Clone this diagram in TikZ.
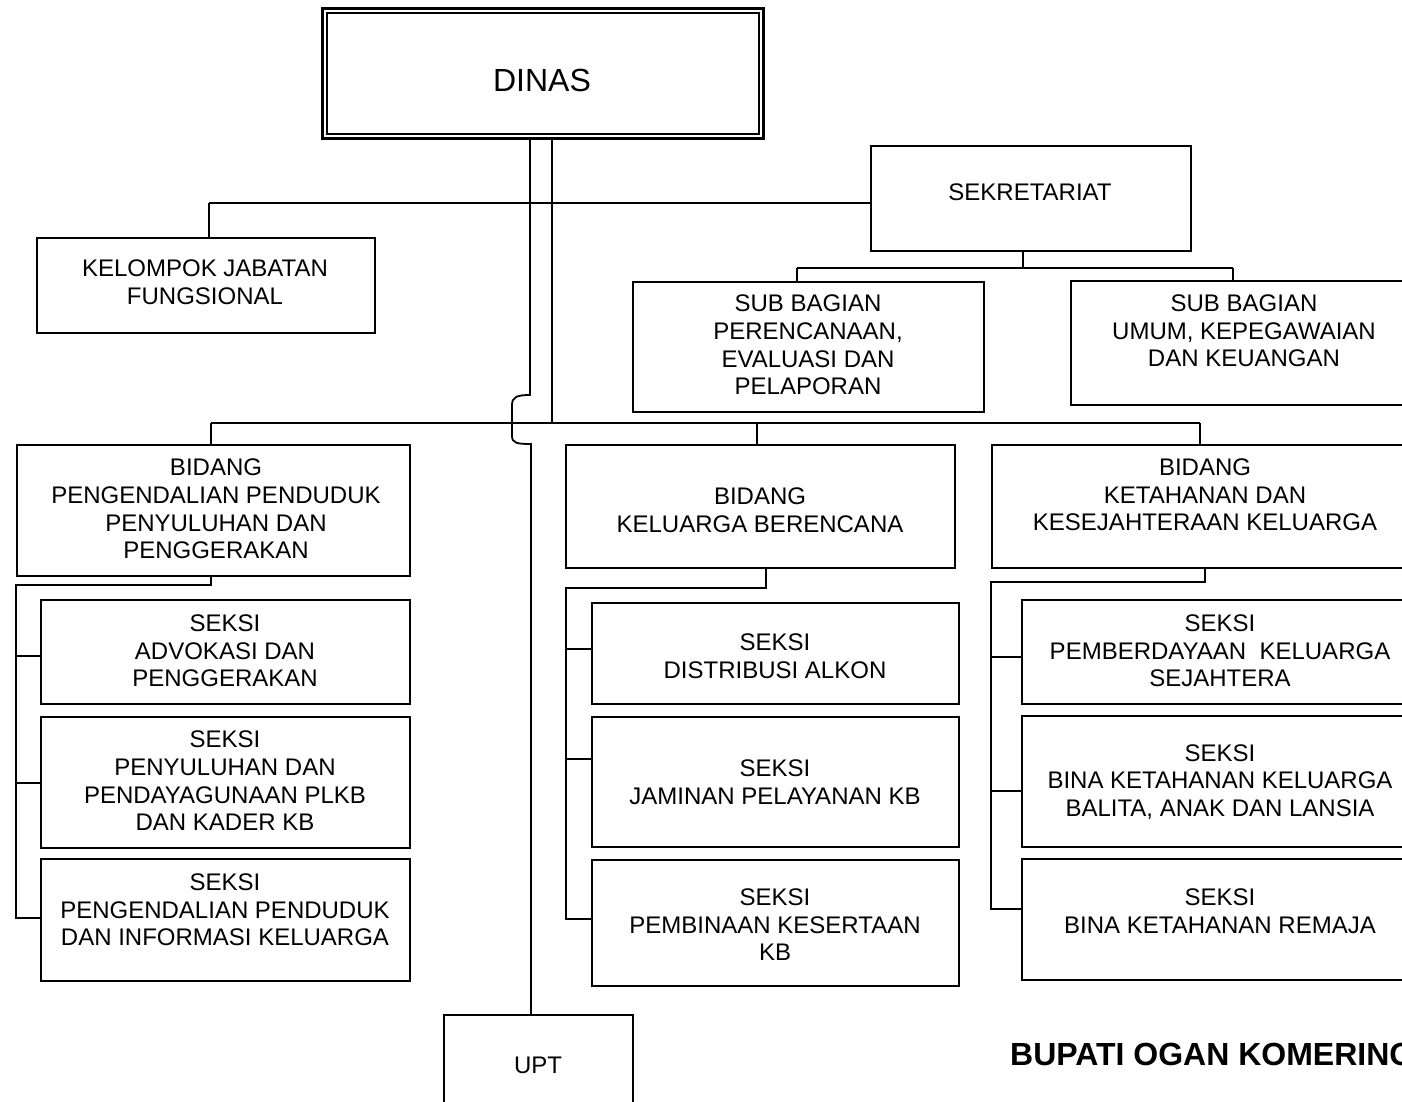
\documentclass[tikz,border=0pt]{standalone}
\usepackage{fontspec}
\setmainfont{Liberation Sans}
\begin{document}
\begin{tikzpicture}[x=1pt,y=-1pt,
  box/.style={draw,line width=1.8pt,rectangle,inner sep=0pt,anchor=north west},
  txt/.style={align=center,inner sep=0pt,font=\fontsize{24}{27.6}\selectfont},
  wire/.style={line width=1.8pt}]
\useasboundingbox (0,0) rectangle (1402,1101);
\fill[white] (0,0) rectangle (1402,1101);
\clip (0,0) rectangle (1402,1101);

% head office, double frame
\node[box,line width=3pt,minimum width=441pt,minimum height=130pt] (dinas) at (321,7) {};
\draw[line width=1.6pt] ([shift={(6,6)}]dinas.north west) rectangle ([shift={(-6,-6)}]dinas.south east);
\node[inner sep=0pt,font=\fontsize{32}{38}\selectfont] (dinas-t) at (542,80) {DINAS};

% secretariat and its sub-sections
\node[box,minimum width=320pt,minimum height=105pt] (sek) at (870,145) {};
\node[txt] (sek-t) at (1030,192) {SEKRETARIAT};
\node[box,minimum width=338pt,minimum height=95pt] (kel) at (36,237) {};
\node[txt] (kel-t) at (205,282) {KELOMPOK JABATAN\\FUNGSIONAL};
\node[box,minimum width=351pt,minimum height=130pt] (sub1) at (632,281) {};
\node[txt] (sub1-t) at (808,345) {SUB BAGIAN\\PERENCANAAN,\\EVALUASI DAN\\PELAPORAN};
\node[box,minimum width=349pt,minimum height=124pt] (sub2) at (1070,280) {};
\node[txt] (sub2-t) at (1244,331) {SUB BAGIAN\\UMUM, KEPEGAWAIAN\\DAN KEUANGAN};

% divisions
\node[box,minimum width=393pt,minimum height=131pt] (bid1) at (16,444) {};
\node[txt] (bid1-t) at (216,509) {BIDANG\\PENGENDALIAN PENDUDUK\\PENYULUHAN DAN\\PENGGERAKAN};
\node[box,minimum width=389pt,minimum height=123pt] (bid2) at (565,444) {};
\node[txt] (bid2-t) at (760,510) {BIDANG\\KELUARGA BERENCANA};
\node[box,minimum width=428pt,minimum height=123pt] (bid3) at (991,444) {};
\node[txt] (bid3-t) at (1205,495) {BIDANG\\KETAHANAN DAN\\KESEJAHTERAAN KELUARGA};

% sections, left column
\node[box,minimum width=369pt,minimum height=104pt] (s11) at (40,599) {};
\node[txt] (s11-t) at (225,651) {SEKSI\\ADVOKASI DAN\\PENGGERAKAN};
\node[box,minimum width=369pt,minimum height=131pt] (s12) at (40,716) {};
\node[txt] (s12-t) at (225,781) {SEKSI\\PENYULUHAN DAN\\PENDAYAGUNAAN PLKB\\DAN KADER KB};
\node[box,minimum width=369pt,minimum height=122pt] (s13) at (40,858) {};
\node[txt] (s13-t) at (225,910) {SEKSI\\PENGENDALIAN PENDUDUK\\DAN INFORMASI KELUARGA};

% sections, middle column
\node[box,minimum width=367pt,minimum height=101pt] (s21) at (591,602) {};
\node[txt] (s21-t) at (775,656) {SEKSI\\DISTRIBUSI ALKON};
\node[box,minimum width=367pt,minimum height=130pt] (s22) at (591,716) {};
\node[txt] (s22-t) at (775,782) {SEKSI\\JAMINAN PELAYANAN KB};
\node[box,minimum width=367pt,minimum height=126pt] (s23) at (591,859) {};
\node[txt] (s23-t) at (775,925) {SEKSI\\PEMBINAAN KESERTAAN\\KB};

% sections, right column
\node[box,minimum width=398pt,minimum height=104pt] (s31) at (1021,599) {};
\node[txt] (s31-t) at (1220,651) {SEKSI\\PEMBERDAYAAN\ \ KELUARGA\\SEJAHTERA};
\node[box,minimum width=398pt,minimum height=131pt] (s32) at (1021,715) {};
\node[txt] (s32-t) at (1220,782) {SEKSI\\BINA KETAHANAN KELUARGA\\BALITA, ANAK DAN LANSIA};
\node[box,minimum width=398pt,minimum height=121pt] (s33) at (1021,858) {};
\node[txt] (s33-t) at (1220,911) {SEKSI\\BINA KETAHANAN REMAJA};

% technical unit
\node[box,minimum width=189pt,minimum height=110pt] (upt) at (443,1014) {};
\node[txt] (upt-t) at (538,1065) {UPT};

\node[anchor=base west,inner sep=0pt,font=\bfseries\fontsize{32}{40}\selectfont] (bupati) at (1010,1065) {BUPATI OGAN KOMERING};

% junction points
\coordinate (jl) at (530,137);
\coordinate (jr) at (552,137);
\coordinate (busA) at (209,203);
\coordinate (busB) at (211,423);

% head office lines
\draw[wire] (jr) -- (552,423);
\draw[wire] (jl) -- (530,395) .. controls (517,395) and (512,397) .. (512,405)
  -- (512,436) .. controls (512,443) and (517,444) .. (531,444) -- (upt.north -| 531,0);
\draw[wire] (busA) -- (busA -| sek.west);
\draw[wire] (busA) -- (busA |- kel.north);

% secretariat branches
\draw[wire] (sek.south -| 1023,0) -- (1023,268);
\draw[wire] (797,268) -- (1233,268);
\draw[wire] (797,268) -- (sub1.north -| 797,0);
\draw[wire] (1233,268) -- (sub2.north -| 1233,0);

% division bus
\draw[wire] (busB) -- (1200,423);
\draw[wire] (busB) -- (bid1.north -| busB);
\draw[wire] (757,423) -- (bid2.north -| 757,0);
\draw[wire] (1200,423) -- (bid3.north -| 1200,0);

% left column branches
\draw[wire] (bid1.south -| 211,0) -- (211,585) -- (16,585) -- (16,918) -- (s13.west |- 0,918);
\draw[wire] (16,656) -- (s11.west |- 0,656);
\draw[wire] (16,783) -- (s12.west |- 0,783);

% middle column branches
\draw[wire] (bid2.south -| 766,0) -- (766,588) -- (566,588) -- (566,919) -- (s23.west |- 0,919);
\draw[wire] (566,649) -- (s21.west |- 0,649);
\draw[wire] (566,759) -- (s22.west |- 0,759);

% right column branches
\draw[wire] (bid3.south -| 1205,0) -- (1205,582) -- (991,582) -- (991,909) -- (s33.west |- 0,909);
\draw[wire] (991,657) -- (s31.west |- 0,657);
\draw[wire] (991,791) -- (s32.west |- 0,791);
\end{tikzpicture}
\end{document}
